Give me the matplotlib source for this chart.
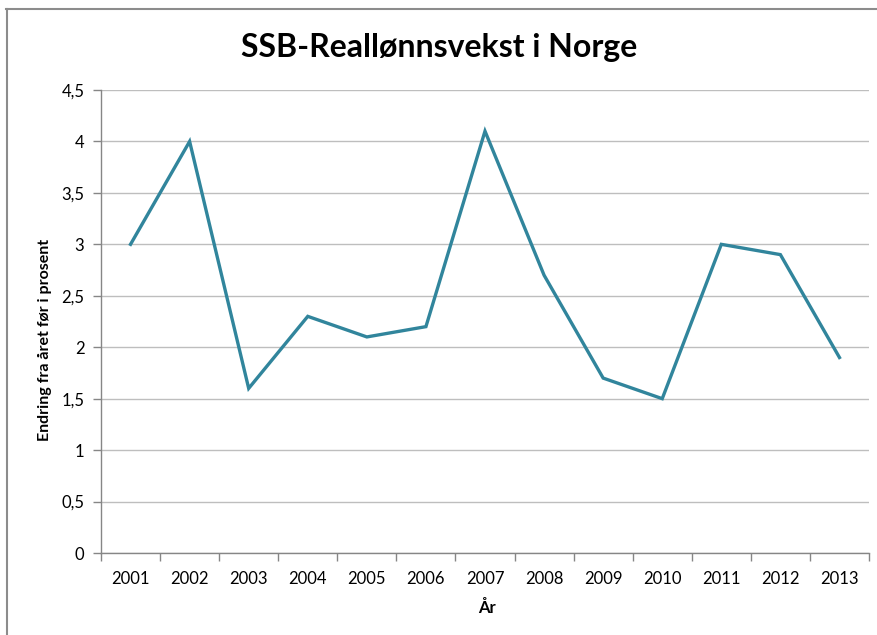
import matplotlib
matplotlib.use("Agg")
import matplotlib.pyplot as plt
import numpy as np
from matplotlib.lines import Line2D

years = ["2001", "2002", "2003", "2004", "2005", "2006", "2007",
         "2008", "2009", "2010", "2011", "2012", "2013"]
values = [3.0, 4.0, 1.6, 2.3, 2.1, 2.2, 4.1, 2.7, 1.7, 1.5, 3.0, 2.9, 1.9]
yticks = [0, 0.5, 1, 1.5, 2, 2.5, 3, 3.5, 4, 4.5]
ytick_labels = ["0", "0,5", "1", "1,5", "2", "2,5", "3", "3,5", "4", "4,5"]

plt.rcParams['font.family'] = ['Lato', 'DejaVu Sans']

fig = plt.figure(figsize=(8.77, 6.35), dpi=100)
ax = fig.add_axes([101/877, 1-553/635, (869-101)/877, (553-90)/635])

x = np.arange(len(years))
ax.plot(x, values, color='#31859C', linewidth=2.4, solid_joinstyle='miter')

ax.set_xlim(-0.5, len(years)-0.5)
ax.set_ylim(0, 4.5)
ax.set_yticks(yticks)
ax.set_yticklabels(ytick_labels, fontsize=12)
ax.set_xticks(x)
ax.set_xticklabels(years, fontsize=12)
ax.set_xticks(np.arange(-0.5, len(years), 1.0), minor=True)
ax.tick_params(axis='x', which='major', length=0, pad=13)
ax.tick_params(axis='x', which='minor', length=6, color='#868686', width=1)
ax.tick_params(axis='y', length=6, color='#868686', width=1, pad=6)

ax.grid(axis='y', color='#BEBEBE', linewidth=1)
ax.set_axisbelow(True)
for s in ['top', 'right']:
    ax.spines[s].set_visible(False)
for s in ['left', 'bottom']:
    ax.spines[s].set_color('#868686')
    ax.spines[s].set_linewidth(1)

fig.text(487/877, 1-608/635, "År", ha='center', va='center',
         fontsize=12, fontweight='bold')
fig.text(45/877, 1-340/635, "Endring fra året før i prosent", ha='center', va='center',
         rotation=90, fontsize=11.5, fontweight='bold')

fig.text(439/877, 1-48/635, "SSB-Reallønnsvekst i Norge", ha='center', va='center',
         fontsize=23, fontweight='bold')

# outer chart frame (top and left edges visible)
fig.add_artist(Line2D([6/877, 1.0], [1-9/635, 1-9/635], transform=fig.transFigure,
                      color='#8C8C8C', linewidth=1.5))
fig.add_artist(Line2D([7/877, 7/877], [0, 1-9/635], transform=fig.transFigure,
                      color='#8C8C8C', linewidth=1.5))

fig.savefig("out.png", dpi=100)
